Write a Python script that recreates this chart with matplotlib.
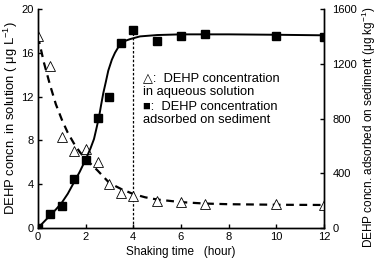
import matplotlib
matplotlib.use("Agg")
import matplotlib.pyplot as plt

plt.rcParams['font.family'] = ['Liberation Sans', 'DejaVu Sans']
plt.rcParams['mathtext.fontset'] = 'custom'
plt.rcParams['mathtext.rm'] = 'Liberation Sans'
plt.rcParams['mathtext.it'] = 'Liberation Sans:italic'

# measured points
t_aq = [0, 0.5, 1, 1.5, 2, 2.5, 3, 3.5, 4, 5, 6, 7, 10, 12]
c_aq = [17.5, 14.8, 8.3, 7.0, 7.2, 6.0, 4.0, 3.2, 2.9, 2.5, 2.35, 2.2, 2.2, 2.1]

t_sed = [0, 0.5, 1, 1.5, 2, 2.5, 3, 3.5, 4, 5, 6, 7, 10, 12]
c_sed = [0, 100, 160, 360, 500, 805, 955, 1350, 1446, 1369, 1405, 1418, 1405, 1394]

# fitted curves
t_fit_aq = [0, 0.25, 0.5, 0.75, 1.0, 1.25, 1.5, 1.75, 2.0, 2.5, 3.0, 3.5, 4.0, 4.5, 5.0, 6.0, 7.0, 8.0, 10.0, 12.0]
c_fit_aq = [17.5, 15.1, 13.1, 11.3, 9.9, 8.7, 7.75, 6.95, 6.3, 5.25, 4.1, 3.55, 3.1, 2.8, 2.6, 2.36, 2.23, 2.17, 2.12, 2.1]

t_fit_sed = [0, 0.25, 0.5, 0.75, 1.0, 1.25, 1.5, 1.75, 2.0, 2.2, 2.35, 2.45, 2.56, 2.65, 2.74, 2.85, 2.95, 3.1, 3.23, 3.4, 3.51, 3.7, 3.86, 4.28, 5, 6, 8, 10, 12]
c_fit_sed = [0, 45, 90, 135, 185, 250, 330, 410, 500, 580, 650, 725, 810, 900, 985, 1070, 1150, 1230, 1280, 1330, 1352, 1370, 1380, 1400, 1410, 1415, 1415, 1412, 1408]

x_ticks = [0, 2, 4, 6, 8, 10, 12]
yl_ticks = [0, 4, 8, 12, 16, 20]
yr_ticks = [0, 400, 800, 1200, 1600]

fig = plt.figure(figsize=(3.78, 2.66), dpi=100)
ax = fig.add_axes([0.1005, 0.143, 0.7565, 0.823])
ax2 = ax.twinx()

fs = 8
ax.plot(t_fit_aq, c_fit_aq, color='black', lw=1.6, ls=(0, (3.5, 2.5)), zorder=2)
ax.plot(t_aq, c_aq, ls='none', marker='^', ms=7.3, mfc='white', mec='black', mew=0.6, zorder=3)
ax.plot([4, 4], [0, 18.1], color='black', lw=0.9, ls=(0, (2, 1.5)), zorder=1)

ax2.plot(t_fit_sed, c_fit_sed, color='black', lw=1.4, zorder=2)
ax2.plot(t_sed, c_sed, ls='none', marker='s', ms=5.8, mfc='black', mec='black', zorder=3)

ax.set_xlim(0, 12)
ax.set_ylim(0, 20)
ax2.set_ylim(0, 1600)
ax.set_xticks(x_ticks)
ax.set_yticks(yl_ticks)
ax2.set_yticks(yr_ticks)

for a in (ax, ax2):
    a.spines['top'].set_visible(False)
    for s in a.spines.values():
        s.set_linewidth(1.0)
ax.tick_params(axis='both', direction='in', length=3, width=1, labelsize=fs, pad=3)
ax2.tick_params(axis='y', direction='in', length=3, width=1, labelsize=fs, pad=6)

ax.set_xlabel('Shaking time   (hour)', fontsize=8.5, labelpad=3)
ax.set_ylabel('DEHP concn. in solution ( μg L$^{-1}$)', fontsize=9.4, labelpad=1)
ax2.set_ylabel('DEHP concn. adsorbed on sediment (μg kg$^{-1}$)', fontsize=8.5,
               rotation=90, va='center', ha='center')
ax2.yaxis.set_label_coords(1.158, 0.46)

leg_lines = ['△:  DEHP concentration', 'in aqueous solution', '■:  DEHP concentration', 'adsorbed on sediment']
ys = [0.685, 0.621, 0.553, 0.493]
for s, yy in zip(leg_lines, ys):
    ax.text(0.368, yy, s, transform=ax.transAxes, fontsize=9.3, va='center', ha='left')

fig.savefig('out.png', dpi=100)
